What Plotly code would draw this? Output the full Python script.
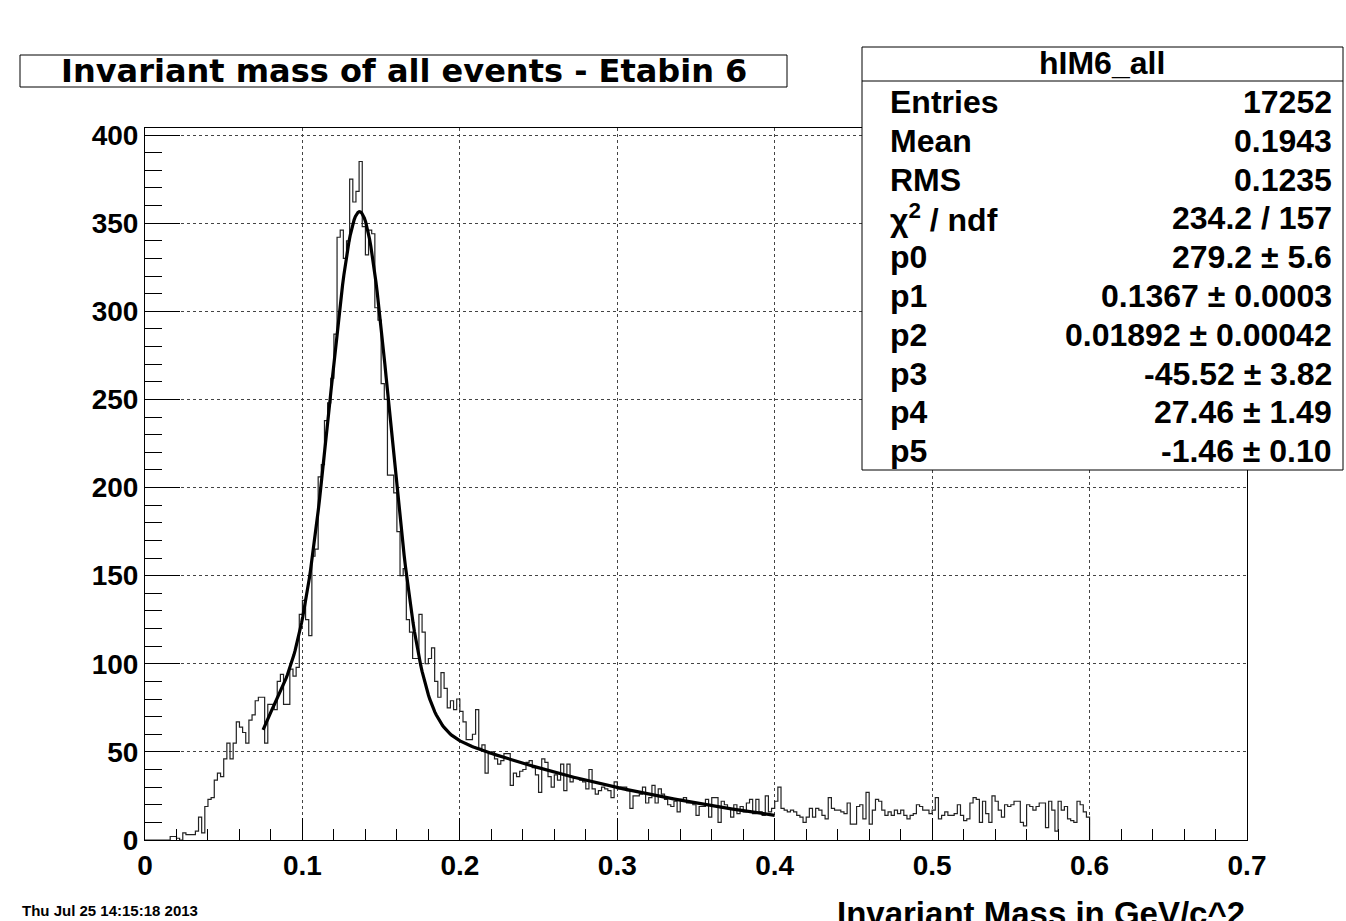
import numpy as np
import plotly.graph_objects as go

# histogram hIM6_all: 300 bins of 0.002 GeV/c^2 from 0 to 0.6
bin_width = 0.002
counts = [
    0, 0, 0, 0, 0, 0, 0, 0, 2, 2, 1, 0, 4, 3, 3, 3, 5, 13, 4, 19, 23, 24, 34, 38, 36,
    46, 55, 46, 55, 67, 64, 61, 55, 68, 71, 79, 81, 81, 55, 77, 77, 74, 90, 94, 77, 77, 97, 93, 98, 128,
    136, 125, 116, 161, 165, 206, 213, 238, 248, 262, 287, 342, 346, 330, 340, 375, 362, 368, 385, 348, 332, 346, 344, 302, 295,
    259, 250, 207, 207, 197, 175, 150, 154, 125, 118, 103, 103, 128, 118, 100, 103, 109, 90, 81, 95, 86, 75, 79, 74, 80,
    73, 67, 57, 57, 60, 74, 52, 54, 38, 49, 50, 46, 43, 45, 49, 49, 31, 38, 36, 39, 40, 44, 45, 41, 37,
    27, 46, 44, 36, 30, 37, 34, 43, 28, 43, 33, 35, 35, 34, 33, 29, 40, 29, 26, 28, 30, 29, 28, 24, 33,
    29, 30, 30, 28, 18, 25, 25, 26, 30, 21, 24, 31, 21, 29, 26, 23, 20, 19, 22, 16, 23, 24, 21, 21, 20,
    14, 19, 19, 23, 13, 24, 24, 10, 22, 20, 18, 13, 20, 15, 19, 16, 21, 23, 15, 23, 16, 14, 25, 16, 18,
    22, 30, 18, 17, 16, 17, 16, 14, 13, 10, 13, 18, 13, 18, 17, 14, 12, 24, 18, 17, 17, 16, 15, 21, 9,
    9, 19, 20, 12, 27, 9, 17, 23, 22, 17, 14, 16, 14, 17, 15, 17, 14, 12, 14, 15, 20, 19, 17, 17, 15,
    17, 24, 12, 14, 16, 14, 14, 15, 20, 14, 11, 12, 21, 24, 23, 10, 22, 15, 10, 25, 22, 17, 13, 20, 19,
    20, 22, 22, 10, 8, 20, 19, 17, 19, 21, 21, 7, 22, 17, 5, 22, 17, 19, 12, 11, 10, 22, 20, 16, 13,
]

# fit: gaus(p0,p1,p2) + p3 + p4/x + p5/x^2, range 0.075 - 0.4
fit_range = (0.075, 0.4)
p = [279.2, 0.1367, 0.01892, -45.52, 27.46, -1.46]

stat_labels = ["Entries", "Mean", "RMS", "&#967;<sup>2</sup> / ndf", "p0", "p1", "p2", "p3", "p4", "p5"]
stat_values = ["17252", "0.1943", "0.1235", "234.2 / 157", "279.2 &#177; 5.6", "0.1367 &#177; 0.0003",
               "0.01892 &#177; 0.00042", "-45.52 &#177; 3.82", "27.46 &#177; 1.49", "-1.46 &#177; 0.10"]

edges = [i * bin_width for i in range(len(counts) + 1)]
hx = edges[:-1] + [edges[-1]]
hy = counts + [0]

fx = np.linspace(fit_range[0], fit_range[1], 400)
fy = p[0] * np.exp(-0.5 * ((fx - p[1]) / p[2]) ** 2) + p[3] + p[4] / fx + p[5] / fx ** 2

W, H = 1346, 921
L, R, T, B = 145, 1247, 128, 840
FONT = "Liberation Sans"


def px(x):
    return (x - L) / (R - L)


def py(y):
    return (B - y) / (B - T)


def bold(size, family=FONT):
    return dict(family=family, size=size, color="black", weight="bold")


fig = go.Figure()
fig.add_trace(go.Scatter(x=hx, y=hy, mode="lines", line=dict(shape="hv", color="#222", width=1.2),
                         hoverinfo="skip"))
fig.add_trace(go.Scatter(x=fx, y=fy, mode="lines", line=dict(color="black", width=3.2)))

axis_common = dict(
    showline=True, linecolor="black", linewidth=1, mirror=True,
    ticks="inside", tickcolor="black", showgrid=True, gridcolor="#444",
    griddash="dot", gridwidth=1, zeroline=False, tickfont=bold(28),
)

fig.update_xaxes(range=[0, 0.7], dtick=0.1, ticklen=22, tickformat="~g",
                 minor=dict(dtick=0.02, ticks="inside", ticklen=11, tickcolor="black", showgrid=False),
                 **axis_common)
fig.update_yaxes(range=[0, 404], dtick=50, ticklen=35,
                 minor=dict(dtick=10, ticks="inside", ticklen=17, tickcolor="black", showgrid=False),
                 **axis_common)

shapes = []
annotations = []


def text(x, y, s, font, xanchor="center", yanchor="middle"):
    annotations.append(dict(xref="paper", yref="paper", x=px(x), y=py(y), text=s, showarrow=False,
                            xanchor=xanchor, yanchor=yanchor, font=font))


# title box
shapes.append(dict(type="rect", xref="paper", yref="paper", x0=px(20), x1=px(787), y0=py(87), y1=py(55),
                   line=dict(color="black", width=1), fillcolor="white", layer="above"))
text(404, 71, "Invariant mass of all events - Etabin 6", bold(32, "DejaVu Sans"))

# stats box
shapes.append(dict(type="rect", xref="paper", yref="paper", x0=px(862), x1=px(1343), y0=py(470), y1=py(47),
                   line=dict(color="black", width=1), fillcolor="white", layer="above"))
shapes.append(dict(type="line", xref="paper", yref="paper", x0=px(862), x1=px(1343), y0=py(81), y1=py(81),
                   line=dict(color="black", width=1), layer="above"))
text(1102, 63, "hIM6_all", bold(32))
for i, (lab, val) in enumerate(zip(stat_labels, stat_values)):
    yy = 102 + i * 38.8
    text(888, yy, lab, bold(32), xanchor="left")
    text(1334, yy, val, bold(32), xanchor="right")

# axis title and date
text(1247, 893, "Invariant Mass in GeV/c^2", bold(33), xanchor="right", yanchor="top")
text(20, 921, "Thu Jul 25 14:15:18 2013", bold(15), xanchor="left", yanchor="bottom")

fig.update_layout(
    width=W, height=H,
    margin=dict(l=L, r=W - R, t=T, b=H - B),
    paper_bgcolor="white", plot_bgcolor="white", showlegend=False,
    shapes=shapes, annotations=annotations,
)

# drop the page's default body margin so the figure fills the window exactly
fig.write_html("out.html", config={"displayModeBar": False},
               post_script="document.body.style.margin='0';document.body.style.overflow='hidden';")
